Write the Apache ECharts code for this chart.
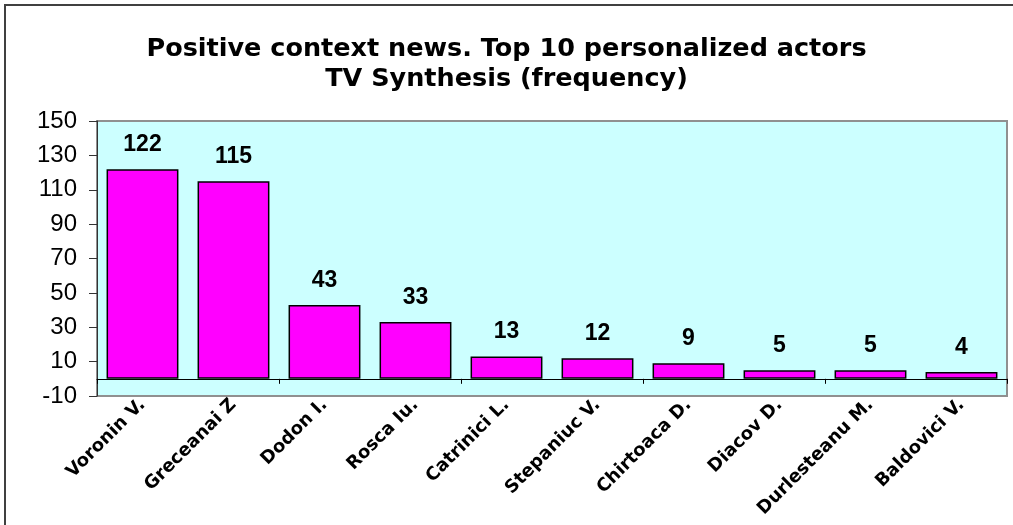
<!DOCTYPE html>
<html>
<head>
<meta charset="utf-8">
<script src="https://cdn.jsdelivr.net/npm/echarts@6/dist/echarts.min.js"></script>
<style>
  html, body { margin: 0; padding: 0; background: #fff; }
  #chart { width: 1013px; height: 525px; }
</style>
</head>
<body>
<div id="chart"></div>
<script>
// actors and their frequency
var actors = ['Voronin V.', 'Greceanai Z', 'Dodon I.', 'Rosca Iu.', 'Catrinici L.',
              'Stepaniuc V.', 'Chirtoaca D.', 'Diacov D.', 'Durlesteanu M.', 'Baldovici V.'];
var freq = [122, 115, 43, 33, 13, 12, 9, 5, 5, 4];
var yMin = -10, yMax = 150, yStep = 20;

var chart = echarts.init(document.getElementById('chart'));
var option = {
    animation: false,
    title: {
        text: 'Positive context news. Top 10 personalized actors\nTV Synthesis (frequency)',
        left: 'center',
        top: 29,
        textStyle: {
            fontFamily: 'DejaVu Sans',
            fontWeight: 'bold',
            fontSize: 25.5,
            lineHeight: 30,
            color: '#000'
        }
    },
    // frame: only top and left edges show in the picture
    graphic: [{
        type: 'polyline',
        shape: { points: [[5, 525], [5, 5], [1013, 5]] },
        style: { fill: 'none', stroke: '#404040', lineWidth: 2 },
        silent: true
    }],
    grid: {
        left: 97, right: 6, top: 121, bottom: 129,
        show: true,
        backgroundColor: '#CCFFFF',
        borderColor: '#909090',
        borderWidth: 2
    },
    xAxis: [{
        type: 'category',
        data: actors,
        position: 'bottom',
        axisLine: { onZero: false, show: false },
        axisTick: { show: false },
        axisLabel: {
            rotate: 45,
            interval: 0,
            margin: 6,
            fontFamily: 'DejaVu Sans',
            fontWeight: 'bold',
            fontSize: 18,
            color: '#000'
        }
    }, {
        type: 'category',
        data: actors,
        position: 'bottom',
        axisLine: { onZero: true, lineStyle: { color: '#000', width: 1 } },
        axisTick: { show: true, inside: false, length: 5, lineStyle: { color: '#000' } },
        axisLabel: { show: false }
    }],
    yAxis: {
        type: 'value',
        min: yMin,
        max: yMax,
        interval: yStep,
        splitLine: { show: false },
        axisLine: { show: true, lineStyle: { color: '#333' } },
        axisTick: { show: true, length: 8, lineStyle: { color: '#333' } },
        axisLabel: {
            margin: 20,
            fontFamily: 'Liberation Sans',
            fontSize: 24,
            color: '#000'
        }
    },
    series: [{
        type: 'bar',
        data: freq,
        barCategoryGap: '21%',
        itemStyle: { color: '#FF00FF', borderColor: '#000', borderWidth: 1.5 },
        label: {
            show: true,
            position: 'top',
            distance: 13,
            fontFamily: 'Liberation Sans',
            fontWeight: 'bold',
            fontSize: 23,
            color: '#000'
        }
    }]
};
chart.setOption(option);
</script>
</body>
</html>
